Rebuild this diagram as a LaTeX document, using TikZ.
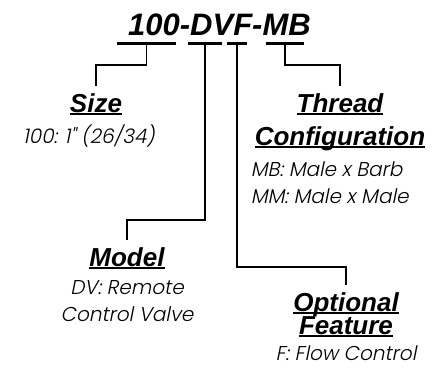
\documentclass[tikz,border=0pt]{standalone}
\usepackage{fontspec}
\setmainfont{Liberation Sans}
\newfontfamily\descfont{Poppins Light}[FakeSlant=0.2]
\usetikzlibrary{positioning}

\newcommand{\ulword}[1]{\setbox0\hbox{#1}\rlap{\rule[-2.5pt]{\wd0}{2pt}}\box0}
\newcommand{\tightlines}{\lineskiplimit=-20pt\relax}

\begin{document}
\begin{tikzpicture}[x=1pt, y=1pt,
    codetext/.style={font=\fontsize{31}{36}\selectfont\bfseries\itshape, inner sep=0pt},
    codebar/.style={fill=black, inner sep=0pt, minimum height=2.5pt},
    heading/.style={font=\fontsize{26}{33}\selectfont\bfseries\itshape, align=center, inner sep=0pt, anchor=north},
    desc/.style={font=\fontsize{20}{26.5}\descfont, align=center, inner sep=0pt},
    link/.style={draw, line width=1.2pt, shorten >=7pt}]
    \useasboundingbox (0,0) rectangle (445,-370);

    % Part number
    \node[codetext, anchor=base] (code) at (219.5,-35) {100-DVF-MB};
    \node[codebar, minimum width=59pt] (sizebar) at (146.5,-43.5) {};
    \node[codebar, minimum width=34pt] (modelbar) at (205,-43.5) {};
    \node[codebar, minimum width=20pt] (featurebar) at (237,-43.5) {};
    \node[codebar, minimum width=38pt] (threadbar) at (285,-43.5) {};

    % Fields
    \node[heading] (size) at (96,-93) {\ulword{Size}};
    \node[desc, below=10pt of size, xshift=-7pt] (sizetext) {100: 1" (26/34)};
    \node[heading] (thread) at (340,-93) {\ulword{Thread}\\\ulword{Configuration}};
    \node[desc, align=left, below=11pt of thread.south west, anchor=north west, xshift=-4pt] (threadtext) {MB: Male x Barb\\MM: Male x Male};
    \node[heading] (model) at (127,-247) {\ulword{Model}};
    \node[desc, below=12pt of model] (modeltext) {DV: Remote\\Control Valve};
    \node[heading, font={\fontsize{26}{23}\selectfont\bfseries\itshape\tightlines}] (feature) at (346,-292) {\ulword{Optional}\\\ulword{Feature}};
    \node[desc, below=9pt of feature] (featuretext) {F: Flow Control};

    % Links
    \draw[link] (sizebar.south) -- ++(0,-20) -| (size.north);
    \draw[link] (modelbar.south) -- ++(0,-175) -| (model.north);
    \draw[link] (featurebar.south) -- ++(0,-222) -| (feature.north);
    \draw[link] (threadbar.south) -- ++(0,-20) -| (thread.north);
  \end{tikzpicture}
\end{document}
